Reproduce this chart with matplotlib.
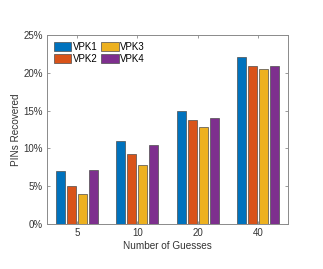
import numpy as np
import matplotlib.pyplot as plt
from matplotlib.ticker import PercentFormatter

plt.rcParams['font.family'] = ['Liberation Sans', 'DejaVu Sans']

# data
guesses = ['5', '10', '20', '40']
series_names = ['VPK1', 'VPK2', 'VPK3', 'VPK4']
vpk1 = [7.0, 11.0, 15.0, 22.1]
vpk2 = [5.0, 9.2, 13.8, 20.9]
vpk3 = [4.0, 7.8, 12.8, 20.5]
vpk4 = [7.2, 10.4, 14.0, 20.9]

colors = ['#0072BD', '#D95319', '#EDB120', '#7E2F8E']
text_col = '#333333'
axis_col = '#8a8a8a'

fig = plt.figure(figsize=(3.23, 2.69), dpi=100)
ax = fig.add_axes([47 / 323, 45 / 269, 241 / 323, 189 / 269])

x = np.arange(1, len(guesses) + 1)
step = 0.183
width = 0.15
for i, (vals, name, col) in enumerate(zip([vpk1, vpk2, vpk3, vpk4], series_names, colors)):
    ax.bar(x + (i - 1.5) * step, vals, width, color=col, edgecolor='#4d4d4d',
           linewidth=0.5, label=name)

ax.set_xlim(0.5, 4.5)
ax.set_ylim(0, 25)
ax.set_xticks(x)
ax.set_xticklabels(guesses)
ax.set_yticks([0, 5, 10, 15, 20, 25])
ax.yaxis.set_major_formatter(PercentFormatter(decimals=0))

ax.tick_params(direction='in', top=True, right=True, length=2.5, width=0.6,
               labelsize=7, color=axis_col, labelcolor=text_col, pad=3)
for sp in ax.spines.values():
    sp.set_linewidth(0.7)
    sp.set_color(axis_col)

ax.set_xlabel('Number of Guesses', fontsize=7.2, color=text_col, labelpad=2)
ax.set_ylabel('PINs Recovered', fontsize=7.2, color=text_col, labelpad=2)

ax.legend(loc='upper left', ncol=2, frameon=False, fontsize=7,
          handlelength=1.8, handleheight=1.0, columnspacing=0.4,
          handletextpad=0.15, labelspacing=0.2, borderaxespad=0.3)

fig.savefig('out.png', dpi=100)
